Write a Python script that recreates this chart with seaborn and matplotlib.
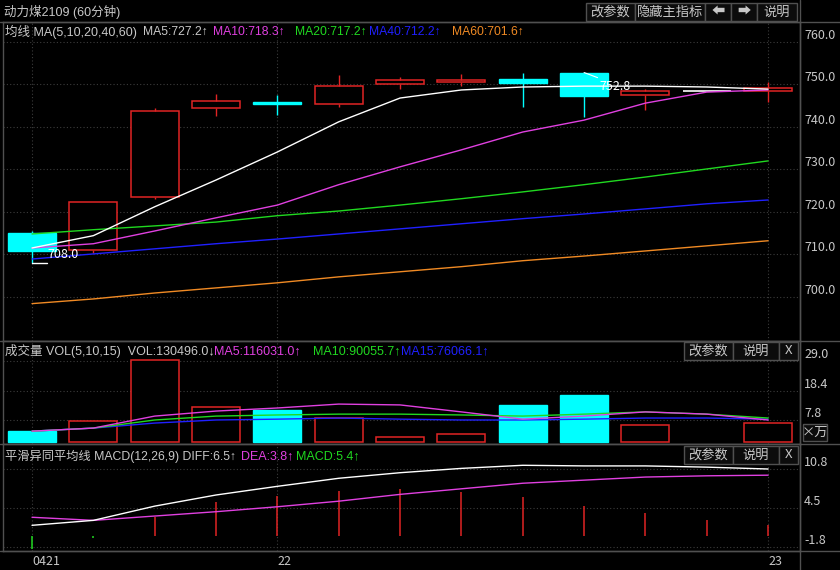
import numpy as np
import matplotlib
matplotlib.use('Agg')
import matplotlib.pyplot as plt
from matplotlib.patches import Rectangle
from matplotlib.lines import Line2D
import seaborn as sns

# K线 (60分钟), 13根
bar_idx = list(range(13))
opens  = [715.1, 711.0, 723.5, 744.5, 745.9, 745.4, 750.1, 750.6, 751.3, 752.8, 747.5, 748.5, 748.5]
closes = [710.8, 722.4, 743.8, 746.1, 745.3, 749.6, 751.0, 751.0, 750.4, 747.3, 748.5, 748.5, 749.2]
highs  = [715.5, 722.4, 744.5, 747.8, 747.5, 752.2, 751.8, 752.5, 752.7, 752.8, 748.9, 748.5, 750.6]
lows   = [708.0, 710.3, 723.0, 742.6, 742.8, 744.7, 749.0, 749.6, 744.7, 742.4, 744.0, 748.5, 745.9]

# 均线
ma5  = [711.5, 714.4, 721.2, 727.5, 734.1, 741.2, 746.8, 748.7, 749.4, 749.6, 749.6, 749.4, 748.9]
ma10 = [711.5, 712.5, 715.5, 718.6, 721.6, 726.4, 730.6, 734.6, 738.8, 741.6, 745.6, 748.2, 748.7]
ma20 = [714.8, 715.8, 716.7, 717.6, 719.1, 720.2, 721.6, 723.1, 724.7, 726.4, 728.2, 730.1, 732.0]
ma40 = [708.9, 710.1, 711.3, 712.5, 713.6, 714.8, 716.0, 717.2, 718.4, 719.5, 720.7, 721.9, 722.8]
ma60 = [698.4, 699.5, 700.9, 702.1, 703.3, 704.7, 705.9, 707.1, 708.5, 709.6, 710.8, 712.0, 713.2]

# 成交量 (万)
volume = [3.9, 7.5, 29.3, 12.5, 11.5, 8.6, 1.8, 2.9, 13.3, 16.8, 6.1, np.nan, 6.8]
vol_ma5  = [3.9, 5.0, 9.3, 11.1, 12.2, 13.6, 13.3, 10.8, 8.2, 9.3, 10.8, 10.0, 7.9]
vol_ma10 = [3.9, 5.0, 7.9, 9.3, 9.7, 10.0, 10.0, 9.7, 9.3, 10.0, 10.8, 10.0, 8.6]
vol_ma15 = [3.9, 5.0, 6.8, 7.9, 8.2, 8.6, 8.2, 7.9, 7.9, 8.2, 8.6, 8.6, 8.2]

# MACD
diff = [1.7, 2.5, 4.8, 6.6, 8.0, 9.3, 10.2, 10.9, 11.4, 11.3, 11.3, 11.1, 10.8]
dea  = [3.0, 2.5, 3.2, 3.9, 4.7, 5.6, 6.7, 7.6, 8.5, 9.0, 9.5, 9.7, 9.8]
macd = [-2.1, -0.4, 3.0, 5.4, 6.5, 7.3, 7.6, 7.1, 6.3, 4.8, 3.7, 2.6, 1.8]

price_ticks = [760, 750, 740, 730, 720, 710, 700]
vol_ticks = [29.0, 18.4, 7.8]
macd_ticks = [10.8, 4.5, -1.8]
date_ticks = [0, 4, 12]
date_labels = ['0421', '22', '23']

sns.set_theme(style='dark', rc={'axes.facecolor': 'black', 'figure.facecolor': 'black'})
plt.rcParams['font.family'] = ['Noto Sans CJK SC', 'DejaVu Sans']
HEAD_FONT = ['Liberation Sans', 'Noto Sans CJK SC', 'DejaVu Sans']

W, H = 840, 570
TXT = '#c8c8c8'
RED = '#e02424'
CYAN = '#00ffff'
MAG = '#e040e0'
GRN = '#20d820'
BLU = '#2020ff'
ORG = '#f08a24'
EDGE = '#505050'
GRID = '#3c3c3c'

fig = plt.figure(figsize=(8.4, 5.7), dpi=100)


def px_axes(x0, y0, x1, y1):
    return fig.add_axes([x0 / W, 1 - y1 / H, (x1 - x0) / W, (y1 - y0) / H])


def ftext(x, y, s, color=TXT, size=9, family=HEAD_FONT, **kw):
    fig.text(x / W, 1 - y / H, s, color=color, fontsize=size, va='center',
             family=family, **kw)


def button(x0, x1, y0, y1, s):
    fig.add_artist(Rectangle((x0 / W, 1 - y1 / H), (x1 - x0) / W, (y1 - y0) / H,
                             transform=fig.transFigure, facecolor='#0c0c0c',
                             edgecolor=EDGE, lw=1))
    ftext((x0 + x1) / 2, (y0 + y1) / 2, s, size=9.5, ha='center',
          family=['Noto Sans CJK SC', 'DejaVu Sans'])


ax_k = px_axes(3, 22, 800, 341)
ax_v = px_axes(3, 341, 800, 444)
ax_m = px_axes(3, 444, 800, 551)

xlim = (-0.473, 12.52)
bw = 0.78
for ax in (ax_k, ax_v, ax_m):
    ax.set_facecolor('black')
    ax.set_xlim(*xlim)
    for s in ax.spines.values():
        s.set_color(EDGE)
        s.set_linewidth(1)
    ax.grid(False)
    ax.yaxis.tick_right()
    ax.tick_params(axis='y', length=0, pad=3, colors=TXT, labelsize=9)
    ax.tick_params(axis='x', length=0)
    for d in date_ticks:
        ax.axvline(d, color=GRID, lw=0.8, ls=(0, (1, 2)))

# 主图
ax_k.set_ylim(689.6, 764.7)
for p in price_ticks:
    ax_k.axhline(p, color=GRID, lw=0.8, ls=(0, (1, 2)))
ax_k.set_yticks(price_ticks)
ax_k.set_yticklabels([f'{p:.1f}' for p in price_ticks])
for i in bar_idx:
    o, c, h, l = opens[i], closes[i], highs[i], lows[i]
    if c == o:
        # 十字星
        ax_k.hlines(c, i - bw / 2, i + bw / 2, color='white', lw=1.2, zorder=3)
        ax_k.vlines(i, l, h, color='white', lw=1, zorder=3)
    elif c > o:
        ax_k.add_patch(Rectangle((i - bw / 2, o), bw, c - o, facecolor='black',
                                 edgecolor=RED, lw=1.1, zorder=3))
        ax_k.vlines(i, c, h, color=RED, lw=1, zorder=3)
        ax_k.vlines(i, l, o, color=RED, lw=1, zorder=3)
    else:
        ax_k.add_patch(Rectangle((i - bw / 2, c), bw, o - c, facecolor=CYAN,
                                 edgecolor=CYAN, lw=1, zorder=3))
        ax_k.vlines(i, l, h, color=CYAN, lw=1, zorder=3)

for vals, col in [(ma60, ORG), (ma40, BLU), (ma20, GRN), (ma10, MAG), (ma5, 'white')]:
    sns.lineplot(x=bar_idx, y=vals, ax=ax_k, color=col, lw=1, legend=False, zorder=4)

# 最低/最高价标注
ax_k.plot([0, 0.25], [lows[0], lows[0]], color='white', lw=1, zorder=5)
ax_k.text(0.25, lows[0] + 2.0, f'{lows[0]:.1f}', color='white', fontsize=9, va='center', zorder=5)
ax_k.plot([9, 9.22], [highs[9], highs[9] - 1.2], color='white', lw=0.8, zorder=5)
ax_k.text(9.25, highs[9] - 3.3, f'{highs[9]:.1f}', color='white', fontsize=9, va='center', zorder=5)

# 成交量
ax_v.set_ylim(-0.7, 36.2)
for v in vol_ticks:
    ax_v.axhline(v, color=GRID, lw=0.8, ls=(0, (1, 2)))
ax_v.set_yticks(vol_ticks)
ax_v.set_yticklabels([f'{v:.1f}' for v in vol_ticks])
for i in bar_idx:
    v = volume[i]
    if np.isnan(v):
        continue
    if closes[i] >= opens[i]:
        ax_v.bar(i, v, width=bw, facecolor='black', edgecolor=RED, lw=1.1, zorder=3)
    else:
        ax_v.bar(i, v, width=bw, facecolor=CYAN, edgecolor=CYAN, lw=1, zorder=3)
for vals, col in [(vol_ma15, BLU), (vol_ma10, GRN), (vol_ma5, MAG)]:
    sns.lineplot(x=bar_idx, y=vals, ax=ax_v, color=col, lw=1, legend=False, zorder=4)

# MACD
ax_m.set_ylim(-2.45, 14.84)
for v in macd_ticks:
    ax_m.axhline(v, color=GRID, lw=0.8, ls=(0, (1, 2)))
ax_m.set_yticks(macd_ticks)
ax_m.set_yticklabels([f'{v:.1f}' for v in macd_ticks])
macd_cols = [RED if m >= 0 else GRN for m in macd]
ax_m.vlines(bar_idx, 0, macd, colors=macd_cols, lw=1.1, zorder=3)
sns.lineplot(x=bar_idx, y=dea, ax=ax_m, color=MAG, lw=1, legend=False, zorder=4)
sns.lineplot(x=bar_idx, y=diff, ax=ax_m, color='white', lw=1, legend=False, zorder=4)
ax_m.set_xticks(date_ticks)
ax_m.set_xticklabels(date_labels, ha='left')
ax_m.tick_params(axis='x', colors=TXT, labelsize=9, pad=3)

for ax in (ax_k, ax_v):
    ax.set_xticks([])
for lab in ax_k.get_yticklabels() + ax_v.get_yticklabels() + ax_m.get_yticklabels():
    lab.set_va('bottom')

# 分隔线
for y in (22, 341, 444, 551):
    fig.add_artist(Line2D([0, 1], [1 - y / H, 1 - y / H], color=EDGE, lw=1,
                          transform=fig.transFigure))
fig.add_artist(Line2D([800 / W, 800 / W], [0, 1], color=EDGE, lw=1, transform=fig.transFigure))

# 标题与指标文字
ftext(4, 12, '动力煤2109 (60分钟)')
ftext(5, 32, '均线 MA(5,10,20,40,60)')
ftext(143, 32, 'MA5:727.2↑', size=8.7)
ftext(213, 32, 'MA10:718.3↑', color=MAG, size=8.7)
ftext(295, 32, 'MA20:717.2↑', color=GRN, size=8.7)
ftext(369, 32, 'MA40:712.2↑', color=BLU, size=8.7)
ftext(452, 32, 'MA60:701.6↑', color=ORG, size=8.7)

ftext(5, 351, '成交量 VOL(5,10,15)  VOL:130496.0↓')
ftext(214, 351, 'MA5:116031.0↑', color=MAG)
ftext(313, 351, 'MA10:90055.7↑', color=GRN)
ftext(401, 351, 'MA15:76066.1↑', color=BLU)

ftext(5, 456, '平滑异同平均线 MACD(12,26,9) DIFF:6.5↑', size=8.8)
ftext(241, 456, 'DEA:3.8↑', color=MAG)
ftext(296, 456, 'MACD:5.4↑', color=GRN)

button(586, 635, 3, 21, '改参数')
button(635, 705, 3, 21, '隐藏主指标')
button(705, 731, 3, 21, '⬅')
button(731, 757, 3, 21, '➡')
button(757, 797, 3, 21, '说明')
button(684, 733, 342, 360, '改参数')
button(733, 779, 342, 360, '说明')
button(779, 798, 342, 360, 'X')
button(684, 733, 446, 464, '改参数')
button(733, 779, 446, 464, '说明')
button(779, 798, 446, 464, 'X')
button(803, 827, 424, 441, '×万')

fig.savefig('out.png', dpi=100, facecolor='black')
